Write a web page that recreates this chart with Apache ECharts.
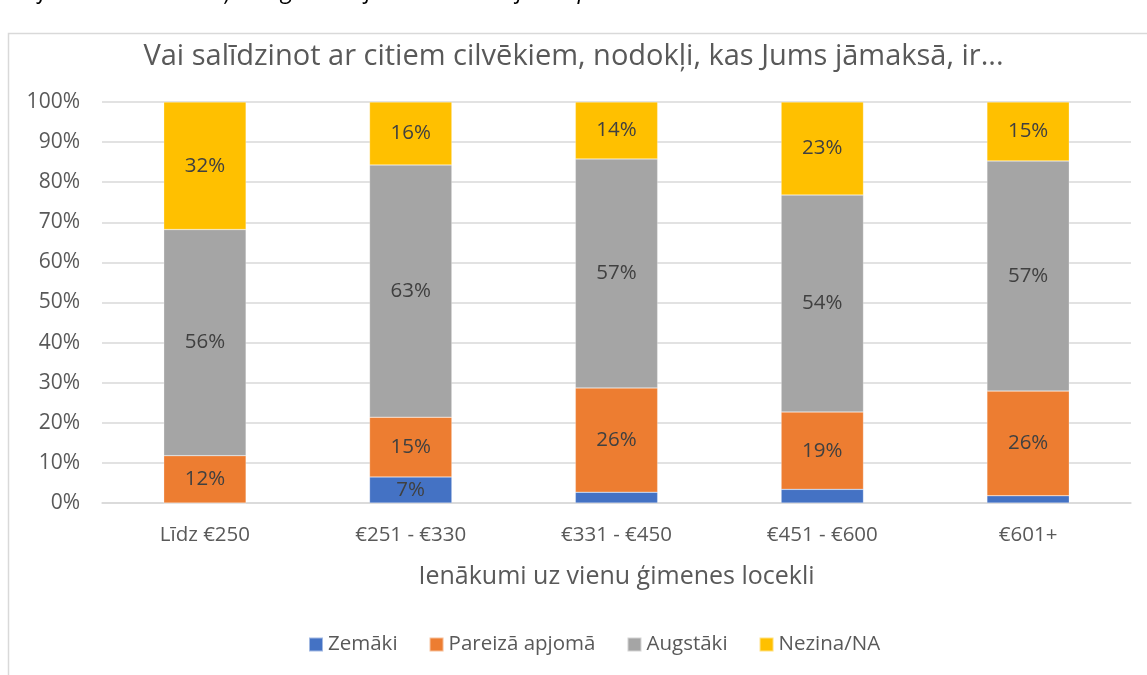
<!DOCTYPE html>
<html>
<head>
<meta charset="utf-8">
<script src="https://cdn.jsdelivr.net/npm/echarts@6/dist/echarts.min.js"></script>
<style>
  html, body { margin: 0; padding: 0; background: #fff; }
  #chart { width: 1147px; height: 675px; }
</style>
</head>
<body>
<div id="chart"></div>
<script>
// income groups
const categories = ['Līdz €250', '€251 - €330', '€331 - €450', '€451 - €600', '€601+'];
const seriesNames = ['Zemāki', 'Pareizā apjomā', 'Augstāki', 'Nezina/NA'];
const lower = [0, 6.5, 2.7, 3.4, 1.8];
const fair = [11.8, 14.9, 26.0, 19.3, 26.1];
const higher = [56.4, 62.9, 57.1, 54.1, 57.4];
const unknown = [31.8, 15.7, 14.2, 23.2, 14.7];
const colors = ['#4472C4', '#ED7D31', '#A5A5A5', '#FFC000'];

const FONT = '"Open Sans", "Noto Sans", sans-serif';
const chart = echarts.init(document.getElementById('chart'));

// uzraksti tikai lielākajiem segmentiem
function makeSeries(name, data, i) {
  return {
    name: name,
    type: 'bar',
    stack: 'total',
    barWidth: '40%',
    data: data,
    itemStyle: { color: colors[i], borderColor: 'rgba(255,255,255,0.5)', borderWidth: 0.5 },
    label: {
      show: true,
      position: 'inside',
      fontFamily: FONT,
      fontSize: 20.5,
      color: '#404040',
      formatter: p => (p.value >= 5 ? Math.round(p.value) + '%' : '')
    }
  };
}

const option = {
  backgroundColor: '#fff',
  animation: false,
  textStyle: { fontFamily: FONT },
  title: {
    text: 'Vai salīdzinot ar citiem cilvēkiem, nodokļi, kas Jums jāmaksā, ir...',
    left: 'center',
    top: 37,
    textStyle: { fontFamily: FONT, fontSize: 29, fontWeight: 'normal', color: '#595959' }
  },
  graphic: [
    {
      type: 'rect',
      shape: { x: 8.5, y: 33.5, width: 1300, height: 800 },
      style: { fill: 'none', stroke: '#d9d9d9', lineWidth: 1.5 },
      silent: true
    },
    {
      type: 'text',
      left: 0,
      top: -21,
      style: {
        text: 'Grafiks nr. 25. Nodokļu sloga vērtējums salīdzinājumā pret citiem atkarībā no ienākumiem',
        fontFamily: FONT,
        fontStyle: 'italic',
        fontSize: 24,
        fill: '#000'
      }
    }
  ],
  legend: {
    data: seriesNames,
    bottom: 15,
    left: 303,
    icon: 'rect',
    itemWidth: 14,
    itemHeight: 14,
    itemGap: 31,
    itemTextGap: 6,
    textStyle: { fontFamily: FONT, fontSize: 20.5, color: '#595959' }
  },
  grid: { left: 102, right: 16, top: 102, bottom: 172, containLabel: false },
  xAxis: {
    type: 'category',
    data: categories,
    name: 'Ienākumi uz vienu ģimenes locekli',
    nameLocation: 'middle',
    nameGap: 61,
    nameTextStyle: { fontFamily: FONT, fontSize: 25, color: '#595959' },
    axisLine: { lineStyle: { color: '#d9d9d9', width: 1.5 } },
    axisTick: { show: false },
    axisLabel: { fontFamily: FONT, fontSize: 20.5, color: '#595959', margin: 22 }
  },
  yAxis: {
    type: 'value',
    min: 0,
    max: 100,
    interval: 10,
    axisLine: { show: false },
    axisTick: { show: false },
    axisLabel: { formatter: '{value}%', fontFamily: FONT, fontSize: 21, color: '#595959', margin: 22 },
    splitLine: { lineStyle: { color: '#d9d9d9', width: 1.5 } }
  },
  series: [
    makeSeries(seriesNames[0], lower, 0),
    makeSeries(seriesNames[1], fair, 1),
    makeSeries(seriesNames[2], higher, 2),
    makeSeries(seriesNames[3], unknown, 3)
  ]
};

chart.setOption(option);
</script>
</body>
</html>
